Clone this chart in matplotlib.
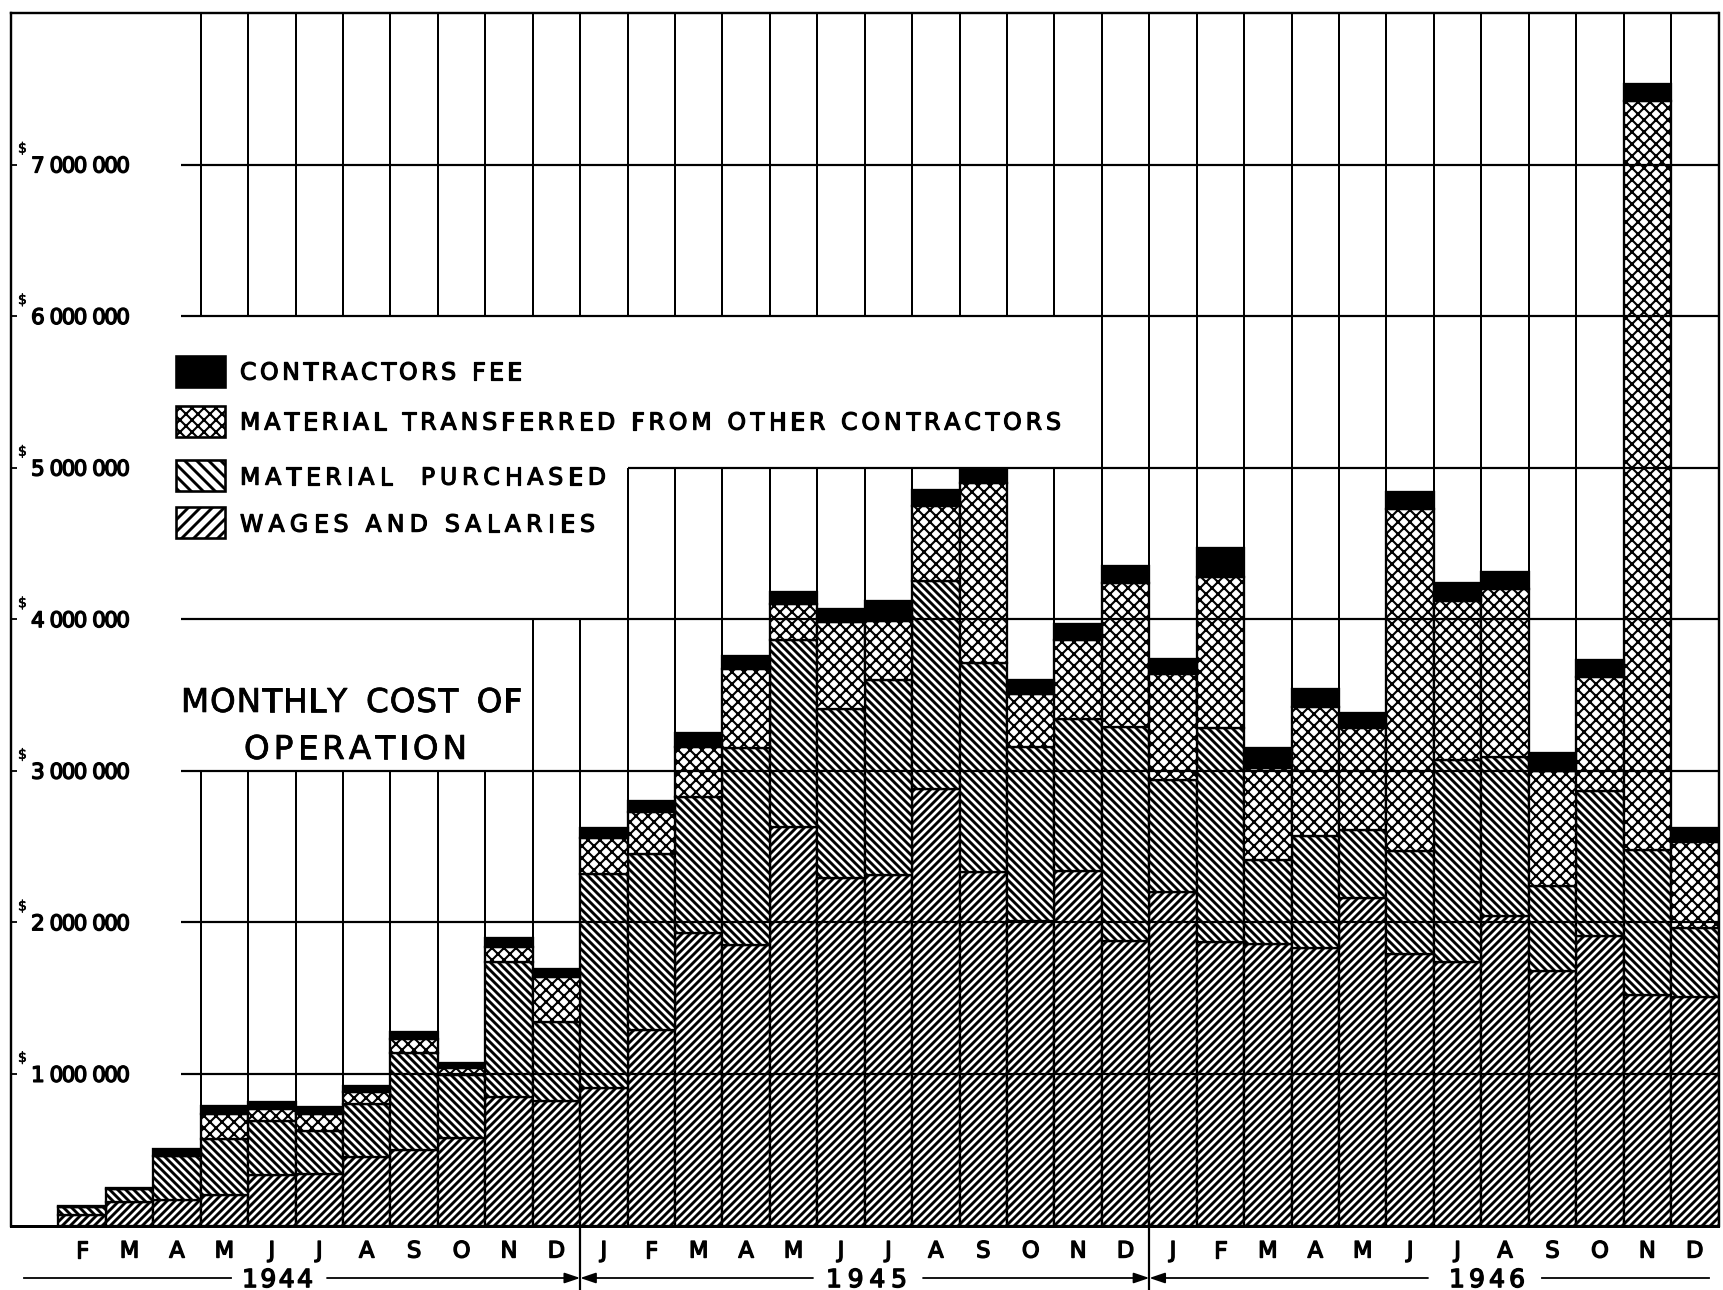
import matplotlib
matplotlib.use("Agg")
import matplotlib.pyplot as plt
import numpy as np
from matplotlib.patches import Rectangle
from matplotlib.lines import Line2D
from matplotlib.font_manager import FontProperties
from matplotlib.textpath import TextToPath
import matplotlib.patheffects as pe

# ---------------- data: monthly cost, thousands of dollars ----------------
months = list("FMAMJJASOND") + list("JFMAMJJASOND") + list("JFMAMJJASOND")
years = ["1944", "1945", "1946"]

wages = [66, 154, 165, 198, 330, 340, 450, 495, 580, 846, 820,
         910, 1290, 1930, 1850, 2630, 2290, 2310, 2880, 2330, 2010, 2340, 1880,
         2200, 1870, 1860, 1830, 2160, 1790, 1740, 2040, 1680, 1910, 1520, 1510]
material_purchased = [54, 86, 295, 373, 362, 286, 350, 645, 410, 894, 520,
                      1410, 1160, 900, 1300, 1230, 1120, 1290, 1370, 1380, 1150, 1000, 1410,
                      740, 1410, 550, 740, 450, 680, 1330, 1050, 560, 960, 960, 450]
material_transferred = [0, 0, 0, 165, 78, 110, 80, 90, 50, 100, 300,
                        240, 280, 330, 520, 240, 570, 390, 500, 1190, 350, 520, 950,
                        700, 1000, 610, 850, 670, 2260, 1050, 1110, 760, 750, 4940, 570]
contractors_fee = [10, 10, 45, 51, 43, 44, 40, 45, 30, 60, 50,
                   60, 70, 90, 90, 80, 90, 130, 100, 90, 90, 110, 110,
                   100, 190, 130, 120, 100, 110, 120, 110, 120, 110, 110, 90]

y_ticks = [1e6, 2e6, 3e6, 4e6, 5e6, 6e6, 7e6]
y_tick_labels = ["1 000 000", "2 000 000", "3 000 000", "4 000 000",
                 "5 000 000", "6 000 000", "7 000 000"]
legend_labels = ["CONTRACTORS FEE",
                 "MATERIAL TRANSFERRED FROM OTHER CONTRACTORS",
                 "MATERIAL  PURCHASED",
                 "WAGES AND SALARIES"]
title_lines = ["MONTHLY COST OF", "OPERATION"]

# ---------------- figure setup ----------------
W, H, DPI = 1723, 1290, 144
plt.rcParams["font.family"] = ["DejaVu Sans"]
plt.rcParams["hatch.linewidth"] = 1.45
plt.rcParams["hatch.color"] = "black"

fig = plt.figure(figsize=(W / DPI, H / DPI), dpi=DPI)
fig.patch.set_facecolor("white")

AX_L, AX_R, AX_T, AX_B = 11.0, 1718.5, 13.0, 1225.5
ax = fig.add_axes([AX_L / W, 1 - AX_B / H, (AX_R - AX_L) / W, (AX_B - AX_T) / H])
ax.set_xlim(0, 36)
ax.set_ylim(0, 8e6)
ax.set_facecolor("white")


def ink(width):
    # thicken the strokes slightly, like pen lettering
    return [pe.withStroke(linewidth=width, foreground="black")]


def fx(px):
    return px / W


def fy(py):
    return 1 - py / H


_t2p = TextToPath()


def ink_width(ch, prop):
    w, _, _ = _t2p.get_text_width_height_descent(ch, prop, ismath=False)
    return w * DPI / 72.0


def lettered(x0, x1, yc, s, size, space_em=0.5, stroke=0.6, family="DejaVu Sans"):
    """Hand-lettering style: letters spread evenly between x0 and x1 (pixels)."""
    prop = FontProperties(family=family, size=size)
    em = size * DPI / 72.0
    sp = space_em * em
    widths = [None if c == " " else ink_width(c, prop) for c in s]
    n_chars = sum(1 for c in s if c != " ")
    total_ink = sum(w for w in widths if w is not None)
    n_sp = s.count(" ")
    g = (x1 - x0 - total_ink - n_sp * sp) / max(n_chars - 1, 1)
    baseline = yc + 0.365 * em
    x = x0
    for c, w in zip(s, widths):
        if c == " ":
            x += sp
            continue
        fig.text(fx(x), fy(baseline), c, fontproperties=prop, ha="left", va="baseline",
                 path_effects=ink(stroke))
        x += w + g


# ---------------- grid ----------------
# vertical rules in the open area; left part of some bands is kept free for text
bands = [(0, 3e6, 4), (3e6, 4e6, 11), (4e6, 5e6, 13), (5e6, 6e6, 23), (6e6, 8e6, 4)]
for y0, y1, kstart in bands:
    ax.vlines(np.arange(kstart, 36), y0, y1, colors="black", lw=1.0, zorder=1)

# ---------------- stacked bars ----------------
x = np.arange(1, 36)
k = 1000.0
series = [
    (np.array(wages) * k, "white", "//////", 1.45),
    (np.array(material_purchased) * k, "white", "\\" * 6, 1.45),
    (np.array(material_transferred) * k, "white", "xxxx", 1.05),
    (np.array(contractors_fee) * k, "black", None, 1.45),
]
bottom = np.zeros(len(x))
for vals, fc, hatch, hlw in series:
    with plt.rc_context({"hatch.linewidth": hlw}):
        ax.bar(x, vals, width=1.0, bottom=bottom, align="edge", facecolor=fc,
               edgecolor="black", linewidth=1.15, hatch=hatch, zorder=2)
    bottom = bottom + vals

# horizontal rules drawn over the bars
ax.hlines([1e6, 2e6, 3e6, 4e6, 6e6, 7e6], 3.58, 36, colors="black", lw=1.1, zorder=3)
ax.hlines([5e6], 13, 36, colors="black", lw=1.1, zorder=3)

for s in ax.spines.values():
    s.set_linewidth(1.2)
    s.set_color("black")
ax.spines["bottom"].set_linewidth(1.5)

# ---------------- axes ticks / labels ----------------
ax.set_yticks(y_ticks)
ax.set_yticklabels([])
ax.tick_params(axis="y", direction="in", length=3, width=0.9, colors="black")

ax.set_xticks(x + 0.5)
ax.set_xticklabels(months, fontsize=11.3)
ax.tick_params(axis="x", length=0, pad=7)
for t in ax.get_xticklabels():
    t.set_path_effects(ink(0.7))

# y labels inside the frame: small superscript dollar sign + amount
for val, lab in zip(y_ticks, y_tick_labels):
    ypx = AX_B - (AX_B - AX_T) * val / 8e6
    lettered(31, 130, ypx, lab, 10.8, space_em=0.3, stroke=0.7)
    fig.text(fx(18), fy(ypx - 12), "$", fontsize=7, ha="left", va="baseline",
             path_effects=ink(0.3))

# ---------------- title ----------------
lettered(181, 522, 700, title_lines[0], 16.3, space_em=0.55, stroke=0.4)
lettered(244, 467, 747, title_lines[1], 16.3, space_em=0.55, stroke=0.4)

# ---------------- legend ----------------
legend_y = [371, 421, 476, 523]
legend_right = [522, 1061, 606, 595]
legend_style = [("black", None, 1.45), ("white", "xxxx", 1.05),
                ("white", "\\" * 4, 1.45), ("white", "////", 1.45)]
for yc, xr, lab, (fc, hatch, hlw) in zip(legend_y, legend_right, legend_labels, legend_style):
    bw, bh = 49, 31
    with plt.rc_context({"hatch.linewidth": hlw}):
        rect = Rectangle((fx(176), fy(yc + bh / 2)), bw / W, bh / H,
                         transform=fig.transFigure, facecolor=fc, edgecolor="black",
                         linewidth=1.3, hatch=hatch)
    fig.add_artist(rect)
    lettered(240, xr, yc, lab, 11.8, space_em=0.5, stroke=0.6)

# ---------------- year band under the month letters ----------------
yr = (AX_B - 1278) / (AX_B - AX_T)
ybot = (AX_B - H) / (AX_B - AX_T)
trans = ax.get_xaxis_transform()
for xd_ in (12, 24):
    ax.add_line(Line2D([xd_, xd_], [0, ybot], transform=trans, color="black",
                       lw=1.1, clip_on=False))


def xd(px):
    return (px - AX_L) / ((AX_R - AX_L) / 36.0)


def year_line(a, b):
    ax.add_line(Line2D([a, b], [yr, yr], transform=trans, color="black",
                       lw=0.9, clip_on=False))


def year_arrow(tail, head):
    ax.annotate("", xy=(head, yr), xytext=(tail, yr), xycoords=trans, textcoords=trans,
                arrowprops=dict(arrowstyle="-|>,head_length=0.65,head_width=0.22",
                                mutation_scale=10, lw=0.9, color="black",
                                shrinkA=0, shrinkB=0),
                annotation_clip=False)


year_line(xd(24), xd(231))
year_arrow(xd(327), 12)
year_arrow(xd(813), 12)
year_arrow(xd(923), 24)
year_arrow(xd(1428), 24)
year_line(xd(1542), xd(1709))

lettered(242, 313, 1278, years[0], 12.5, stroke=0.7)
lettered(826, 907, 1278, years[1], 12.5, stroke=0.7)
lettered(1449, 1525, 1278, years[2], 12.5, stroke=0.7)

fig.savefig("out.png", dpi=DPI)
